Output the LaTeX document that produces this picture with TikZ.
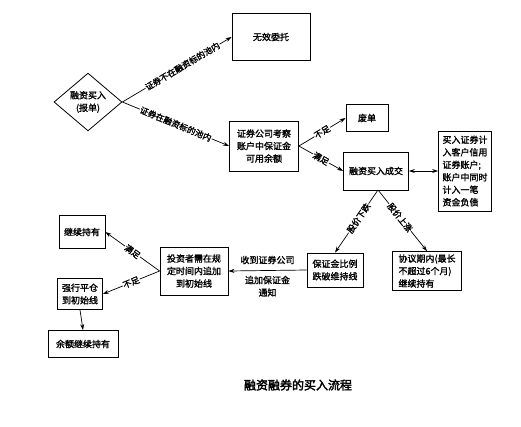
\documentclass[tikz,border=0pt]{standalone}
\usepackage{fontspec}
\newfontfamily\cjk[FakeBold=1.5]{Noto Sans CJK SC}
\newfontfamily\cjkb[FakeBold=2.5]{Noto Sans CJK SC}
\usetikzlibrary{shapes.geometric,arrows.meta}
\begin{document}
\begin{tikzpicture}[x=1pt,y=-1pt,
  every node/.style={font=\cjk\fontsize{9}{12.5}\selectfont},
  box/.style={draw,line width=0.8pt,inner sep=0pt,align=center},
  arr/.style={-{Stealth[length=6pt,width=4pt]},line width=0.7pt},
  lab/.style={sloped,fill=white,inner sep=0.5pt,font=\cjk\fontsize{8.5}{9}\selectfont}]
\useasboundingbox (0,0) rectangle (521,426);
\fill[white] (0,0) rectangle (521,426);
% nodes
\node[draw,diamond,line width=0.8pt,minimum width=68pt,minimum height=56pt,inner sep=0pt,align=center] (d) at (88,102) {融资买入\\(报单)};
\node[box,minimum width=78pt,minimum height=47pt] (wx) at (271,37) {无效委托};
\node[box,minimum width=69pt,minimum height=50pt] (zq) at (264,146) {证券公司考察\\账户中保证金\\可用余额};
\node[box,minimum width=42pt,minimum height=27pt] (fd) at (367,118) {废单};
\node[box,minimum width=65pt,minimum height=38pt] (cj) at (376,171) {融资买入成交};
\node[box,minimum width=53pt,minimum height=80pt,align=left] (jr) at (465,171) {买入证券计\\入客户信用\\证券账户;\\账户中同时\\计入一笔\\资金负债};
\node[box,minimum width=56pt,minimum height=34pt] (bz) at (335,270) {保证金比例\\跌破维持线};
\node[box,minimum width=69pt,minimum height=39pt,align=left] (xy) at (427,271) {协议期内(最长\\不超过6个月)\\继续持有};
\node[box,minimum width=68pt,minimum height=48pt] (tz) at (194,271) {投资者需在规\\定时间内追加\\到初始线};
\node[box,minimum width=46pt,minimum height=33pt] (jx) at (82,232) {继续持有};
\node[box,minimum width=45pt,minimum height=31pt] (qx) at (80,294) {强行平仓\\到初始线};
\node[box,minimum width=70pt,minimum height=27pt] (ye) at (83,344) {余额继续持有};
\node[font=\cjkb\fontsize{12}{14}\selectfont] (cap) at (298,385) {融资融券的买入流程};
% connectors
\draw[arr] (d.east) -- node[lab,pos=0.55] {证券不在融资标的池内} (wx.west);
\draw[arr] (d.east) -- node[lab,pos=0.5] {证券在融资标的池内} (zq.west);
\draw[arr] (zq.east) -- node[lab] {不足} (fd.west);
\draw[arr] (zq.east) -- node[lab] {满足} (cj.west);
\draw[{Stealth[length=6pt,width=4pt]}-{Stealth[length=6pt,width=4pt]},line width=0.7pt] (cj.east) -- (jr.west);
\coordinate (cjb) at (378,190);
\draw[arr] (cjb) -- node[lab,pos=0.45] {股价下跌} (bz.north);
\draw[arr] (cjb) -- node[lab,pos=0.45] {股价上涨} (xy.north);
\draw[arr] (bz.west) -- node[above=5pt,inner sep=1pt] {收到证券公司} node[below=4pt,inner sep=1pt,align=center] {追加保证金\\通知} (tz.east);
\draw[arr] (tz.west) -- node[lab] {满足} (jx.east);
\draw[arr] (tz.west) -- node[lab] {不足} (qx.east);
\draw[arr] (qx.south) -- (ye.north);
\end{tikzpicture}
\end{document}
